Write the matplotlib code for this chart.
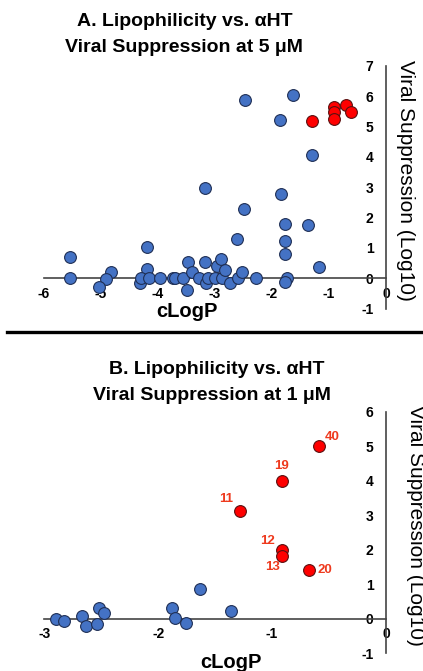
import matplotlib
matplotlib.use("Agg")
import matplotlib.pyplot as plt
from matplotlib.lines import Line2D

plt.rcParams["font.family"] = ["Liberation Sans", "DejaVu Sans"]

# Panel A: 5 uM, cLogP vs viral suppression (log10)
a_blue_x = [-5.54, -5.54, -4.82, -4.92, -5.03, -4.20, -4.20, -4.32, -4.29, -4.16,
            -3.96, -3.73, -3.70, -3.57, -3.50, -3.47, -3.41, -3.28, -3.18, -3.15,
            -3.12, -3.17, -3.00, -2.97, -2.89, -2.88, -2.82, -2.73, -2.62, -2.59,
            -2.52, -2.50, -2.48, -2.28, -1.86, -1.84, -1.78, -1.78, -1.77, -1.73,
            -1.77, -1.64, -1.36, -1.29, -1.17]
a_blue_y = [0.71, 0.02, 0.22, -0.03, -0.27, 1.04, 0.31, -0.16, 0.00, 0.00,
            0.00, 0.00, 0.00, 0.00, -0.38, 0.54, 0.20, 0.00, 0.55, -0.14,
            0.00, 2.96, 0.00, 0.41, 0.64, 0.00, 0.27, -0.14, 1.30, 0.00,
            0.20, 2.27, 5.86, 0.02, 5.20, 2.77, 1.80, 1.22, 0.81, 0.02,
            -0.13, 6.02, 1.75, 4.07, 0.36]
a_red_x = [-1.29, -0.92, -0.92, -0.92, -0.70, -0.61]
a_red_y = [5.18, 5.64, 5.48, 5.26, 5.72, 5.47]

# Panel B: 1 uM
b_blue_x = [-2.90, -2.83, -2.67, -2.63, -2.54, -2.52, -2.48, -1.88, -1.85, -1.76, -1.63, -1.36]
b_blue_y = [0.00, -0.05, 0.08, -0.21, -0.14, 0.32, 0.17, 0.32, 0.03, -0.12, 0.85, 0.24]
b_red_x = [-0.59, -0.91, -1.28, -0.91, -0.91, -0.68]
b_red_y = [5.02, 3.98, 3.13, 1.98, 1.83, 1.40]
b_red_ids = ["40", "19", "11", "12", "13", "20"]

W, H = 423, 671
fig = plt.figure(figsize=(W / 100, H / 100), dpi=100)

BLUE = "#4472C4"
RED = "#FF0000"
LABEL_RED = "#EE3A1E"
MS = 72


def setup_axes(ax, xlim, ylim, xticks, yticks):
    ax.set_xlim(*xlim)
    ax.set_ylim(*ylim)
    for side in ("top", "right"):
        ax.spines[side].set_visible(False)
    ax.spines["left"].set_position(("data", 0))
    ax.spines["bottom"].set_position(("data", 0))
    for side in ("left", "bottom"):
        ax.spines[side].set_color("#444444")
        ax.spines[side].set_linewidth(1.2)
    ax.set_xticks(xticks)
    ax.set_yticks(yticks)
    ax.set_xticklabels([str(t) for t in xticks], fontweight="bold", fontsize=10)
    ax.set_yticklabels([str(t) for t in yticks], fontweight="bold", fontsize=10)
    ax.tick_params(axis="x", length=0, pad=6)
    ax.tick_params(axis="y", length=0, pad=9)
    ax.patch.set_alpha(0)


def px_axes(left, right, top, bottom):
    return fig.add_axes([left / W, 1 - bottom / H, (right - left) / W, (bottom - top) / H])


# ---- Panel A ----
axA = px_axes(44, 386, 65.7, 308.7)
setup_axes(axA, (-6, 0), (-1, 7), list(range(-6, 1)), list(range(-1, 8)))
axA.scatter(a_blue_x, a_blue_y, s=MS, c=BLUE, edgecolors="#1f2f55", linewidths=0.8, zorder=3, clip_on=False)
axA.scatter(a_red_x, a_red_y, s=MS, c=RED, edgecolors="#5a1010", linewidths=0.8, zorder=4, clip_on=False)

fig.text(185 / W, 1 - 22 / H, "A. Lipophilicity vs. αHT", ha="center", va="center",
         fontsize=14, fontweight="bold")
fig.text(184 / W, 1 - 47 / H, "Viral Suppression at 5 μM", ha="center", va="center",
         fontsize=14, fontweight="bold")
fig.text(187 / W, 1 - 312 / H, "cLogP", ha="center", va="center", fontsize=14.5, fontweight="bold")
fig.text(405 / W, 1 - 180 / H, "Viral Suppression (Log10)", rotation=270, ha="center", va="center",
         fontsize=15)

# separator
fig.add_artist(Line2D([7 / W, 1.0], [1 - 332 / H, 1 - 332 / H], color="black", linewidth=2.4))

# ---- Panel B ----
axB = px_axes(44.3, 386, 411.7, 653.3)
setup_axes(axB, (-3, 0), (-1, 6), list(range(-3, 1)), list(range(-1, 7)))
axB.scatter(b_blue_x, b_blue_y, s=MS, c=BLUE, edgecolors="#1f2f55", linewidths=0.8, zorder=3, clip_on=False)
axB.scatter(b_red_x, b_red_y, s=MS, c=RED, edgecolors="#5a1010", linewidths=0.8, zorder=4, clip_on=False)

label_offsets = {"40": (9.5, 6), "19": (-0.7, 11), "11": (-10, 8.6), "12": (-10.8, 6.5),
                 "13": (-7.2, -8), "20": (11.5, 0)}
for x, y, lab in zip(b_red_x, b_red_y, b_red_ids):
    dx, dy = label_offsets[lab]
    axB.annotate(lab, (x, y), xytext=(dx, dy), textcoords="offset points", ha="center", va="center",
                 color=LABEL_RED, fontsize=9.5, fontweight="bold", zorder=5)

fig.text(217 / W, 1 - 369 / H, "B. Lipophilicity vs. αHT", ha="center", va="center",
         fontsize=14, fontweight="bold")
fig.text(212 / W, 1 - 395 / H, "Viral Suppression at 1 μM", ha="center", va="center",
         fontsize=14, fontweight="bold")
fig.text(231 / W, 1 - 662 / H, "cLogP", ha="center", va="center", fontsize=14.5, fontweight="bold")
fig.text(415 / W, 1 - 525 / H, "Viral Suppression (Log10)", rotation=270, ha="center", va="center",
         fontsize=15)

fig.savefig("out.png", dpi=100)
